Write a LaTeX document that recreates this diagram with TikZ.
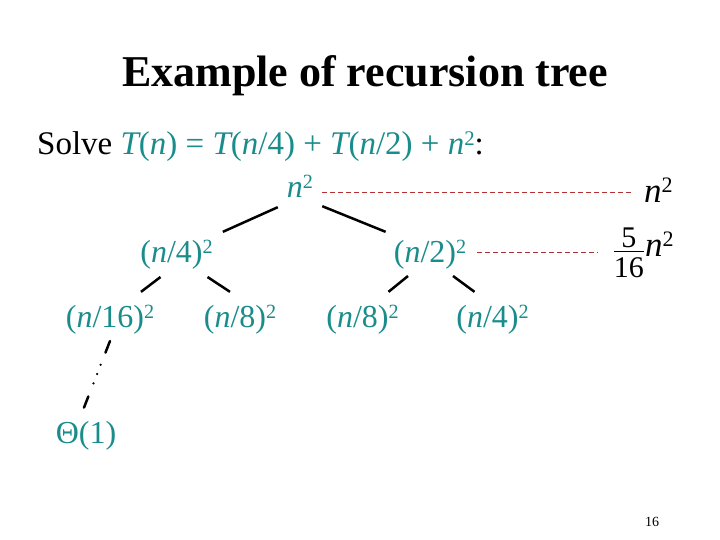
\documentclass[tikz,border=0pt]{standalone}
\usepackage{fontspec}
\setmainfont{Liberation Serif}
\usepackage{graphicx}
\usetikzlibrary{positioning}
\definecolor{treeteal}{RGB}{26, 140, 140}
\definecolor{levelred}{RGB}{175, 50, 50}
\newcommand{\nvar}{{\itshape n}}
\newcommand{\tvar}{{\itshape T}}
\newcommand{\sqd}{\raisebox{0.3em}{\scalebox{0.63}{2}}}
\newcommand{\fracdigit}[1]{\mbox{\fontsize{30}{32}\selectfont #1}}

\begin{document}
\begin{tikzpicture}[x=1pt, y=1pt,
  term/.style={text=treeteal, font=\fontsize{32}{38}\selectfont, inner sep=0pt, anchor=base},
  sumterm/.style={font=\fontsize{35}{40}\selectfont, inner sep=0pt, anchor=base west},
  branch/.style={line width=2.5pt},
  levelline/.style={draw=levelred, line width=0.9pt, dash pattern=on 5pt off 3pt},
  fade/.style={line width=2.5pt, line cap=round, dash pattern=on 12.5pt off 13pt on 0pt off 10pt on 0pt off 10pt on 0pt off 14pt on 12.5pt}
]
  \useasboundingbox (0,0) rectangle (720,540);
  \node[font=\fontsize{44}{50}\selectfont\bfseries, inner sep=0pt, anchor=base] (title) at (365, 453) {Example of recursion tree};
  \node[font=\fontsize{33}{38}\selectfont, inner sep=0pt, anchor=base west] (solve) at (37, 385)
    {Solve {\color{treeteal}\tvar(\nvar) = \tvar(\nvar/4) + \tvar(\nvar/2) + \nvar\sqd}:};

  \node[term] (root) at (300, 342) {\nvar\sqd};
  \node[term] (l2a) at (176.5, 277) {(\nvar/4)\sqd};
  \node[term] (l2b) at (430, 277) {(\nvar/2)\sqd};
  \node[term] (l3a) at (110, 212) {(\nvar/16)\sqd};
  \node[term] (l3b) at (240, 212) {(\nvar/8)\sqd};
  \node[term] (l3c) at (362.5, 212) {(\nvar/8)\sqd};
  \node[term] (l3d) at (492.5, 212) {(\nvar/4)\sqd};
  \node[term] (leaf) at (86, 96) {Θ(1)};

  \node[sumterm] (row1) at (644, 337) {\nvar\sqd};
  \node[sumterm] (row2) at (612.5, 283) {$\frac{\fracdigit{5}}{\raisebox{-12pt}{\fracdigit{16}}}$\nvar\sqd};
  \node[font=\fontsize{14}{16}\selectfont, inner sep=0pt] (page) at (652, 18) {16};

  \draw[branch] ([shift={(-9,-9)}]root.south west) -- ([shift={(10,8)}]l2a.north east);
  \draw[branch] ([shift={(9,-8)}]root.south east) -- ([shift={(-8,8)}]l2b.north west);
  \draw[branch] ([shift={(-16,-7)}]l2a.south) -- ([shift={(31,13)}]l3a.north);
  \draw[branch] ([shift={(31,-7)}]l2a.south) -- ([shift={(-10,13)}]l3b.north);
  \draw[branch] ([shift={(-22,-6)}]l2b.south) -- ([shift={(26,13)}]l3c.north);
  \draw[branch] ([shift={(23,-6)}]l2b.south) -- ([shift={(-18,13)}]l3d.north);
  \draw[fade] ([yshift=-6]l3a.south) -- ([shift={(-2,14)}]leaf.north);

  \draw[levelline] ([shift={(9,6)}]root.base east) -- ([shift={(-11,11)}]row1.base west);
  \draw[levelline] ([shift={(11,11)}]l2b.base east) -- ([shift={(-14.5,5)}]row2.base west);
\end{tikzpicture}
\end{document}
